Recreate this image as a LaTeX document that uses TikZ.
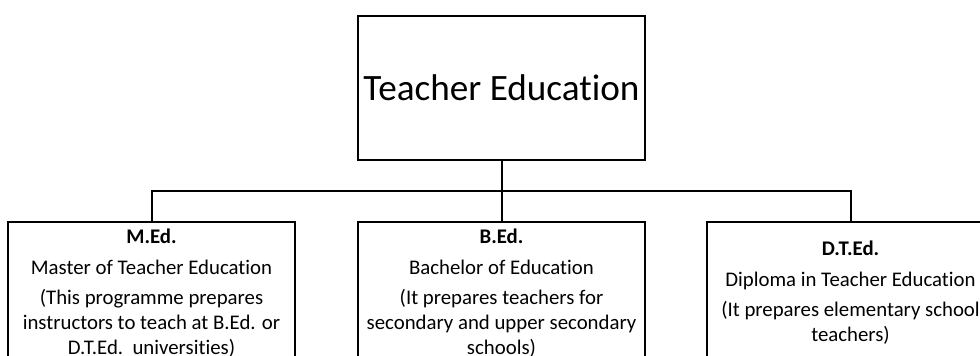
\documentclass[tikz,border=0pt]{standalone}
\usepackage{fontspec}
\setmainfont{Carlito}[Ligatures=NoCommon]
\usepackage{tikz}
\usetikzlibrary{positioning}

\begin{document}
\begin{tikzpicture}[
  x=1pt, y=1pt,
  font=\fontsize{20.8}{25}\selectfont,
  box/.style  ={draw, line width=2pt, align=center, inner sep=0pt},
  root/.style ={box, minimum width=287pt, minimum height=144pt,
                font=\fontsize{37.2}{40}\selectfont},
  prog/.style ={box, minimum width=287pt, minimum height=142pt},
  link/.style ={line width=2pt},
]
\useasboundingbox (0,0) rectangle (980,-356);
\clip (0,0) rectangle (980,-356);

\node[root] (te) at (501.5,-88) {Teacher Education};

\node[prog, below=60pt of te] (bed) {%
  \textbf{B.Ed.}\\[6pt]
  Bachelor of Education\\[5pt]
  (It prepares teachers for\\
  secondary and upper secondary\\
  schools)};

\node[prog, left=61pt of bed] (med) {%
  \textbf{M.Ed.}\\[6pt]
  Master of Teacher Education\\[5pt]
  (This programme prepares\\
  instructors to teach at B.Ed. or\\
  D.T.Ed.\ \ universities)};

\node[prog, right=60pt of bed] (dted) {%
  \textbf{D.T.Ed.}\\[6pt]
  Diploma in Teacher Education\\[5pt]
  (It prepares elementary school\\
  teachers)};

\coordinate (bar) at ([yshift=-30pt]te.south);
\draw[link] (te.south) -- (bar) -- (bed.north);
\draw[link] (bar) -| (med.north);
\draw[link] (bar) -| (dted.north);

\end{tikzpicture}
\end{document}
